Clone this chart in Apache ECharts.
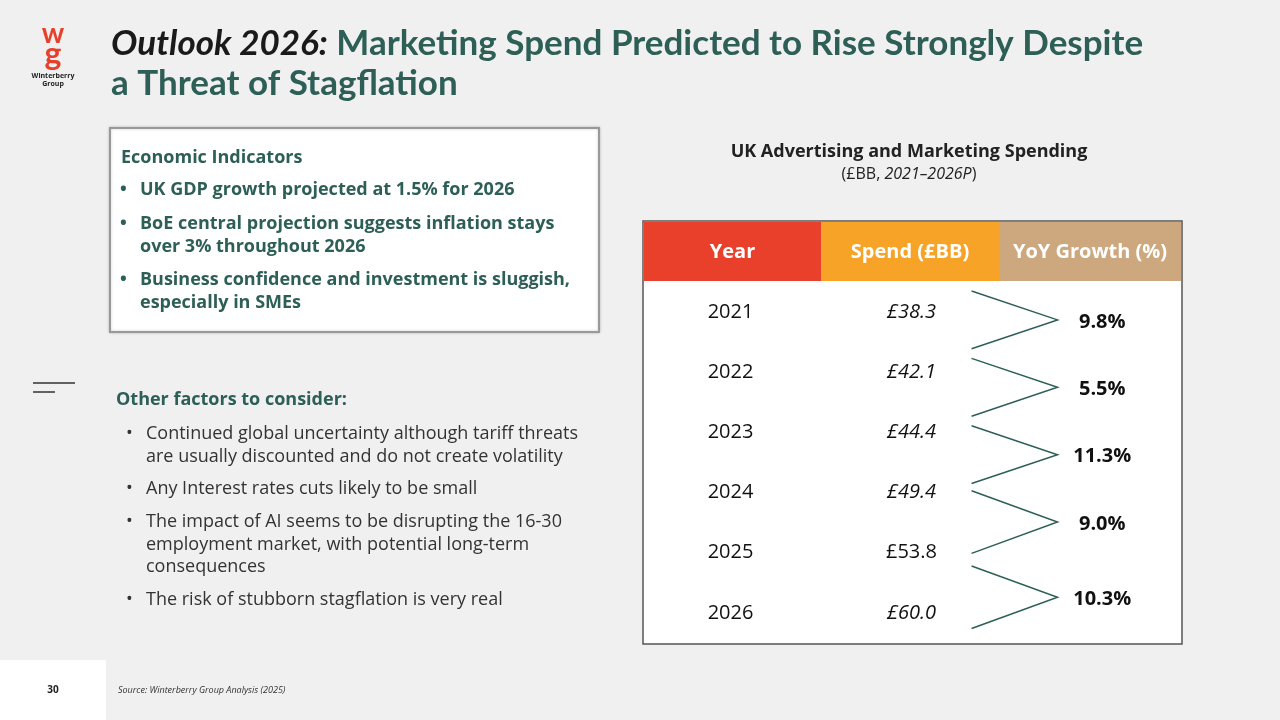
<!DOCTYPE html>
<html><head><meta charset="utf-8">
<script src="https://cdn.jsdelivr.net/npm/echarts@6/dist/echarts.min.js"></script>
<style>html,body{margin:0;padding:0;background:#f0f0f0}#c{width:1280px;height:720px}</style>
</head><body><div id="c"></div>
<script>
const years = ['2021','2022','2023','2024','2025','2026'];
const spend = [38.3, 42.1, 44.4, 49.4, 53.8, 60.0];
const spendItalic = [true, true, true, true, false, true];
const growth = [9.8, 5.5, 11.3, 9.0, 10.3];
const headers = ['Year','Spend (£BB)','YoY Growth (%)'];

const teal = '#2d5f56';
const F = '"Open Sans", sans-serif';
const chart = echarts.init(document.getElementById('c'));

const g = [];
g.push({type:'rect',shape:{x:0,y:660,width:106,height:60},style:{fill:'#fff'}});
g.push({type:'text',x:53,y:690,style:{text:'30',font:'bold 10px '+F,fill:'#222',align:'center',verticalAlign:'middle'}});
g.push({type:'text',x:118,y:690,style:{text:'Source: Winterberry Group Analysis (2025)',font:'italic 9px '+F,fill:'#333',verticalAlign:'middle'}});
// logo
g.push({type:'text',x:53,y:34,style:{text:'w',font:'bold 28px Lato, sans-serif',fill:'#e8402a',align:'center',verticalAlign:'middle'}});
g.push({type:'text',x:53,y:55,style:{text:'g',font:'bold 32px Lato, sans-serif',fill:'#e8402a',align:'center',verticalAlign:'middle'}});
g.push({type:'text',x:53,y:76,style:{text:'Winterberry',font:'bold 7px '+F,fill:'#222',align:'center',verticalAlign:'middle'}});
g.push({type:'text',x:53,y:84,style:{text:'Group',font:'bold 7px '+F,fill:'#222',align:'center',verticalAlign:'middle'}});
// title
g.push({type:'text',x:111,y:64,style:{text:'{a|Outlook 2026:} Marketing Spend Predicted to Rise Strongly Despite\na Threat of Stagflation',
  font:'bold 35px Lato, sans-serif',fill:teal,lineHeight:40,verticalAlign:'middle',
  rich:{a:{font:'italic bold 35px Lato, sans-serif',fill:'#1a1a1a'}}}});
// economic box
g.push({type:'rect',shape:{x:110,y:128,width:489,height:204},style:{fill:'#fff',stroke:'#999',lineWidth:2,shadowBlur:3,shadowColor:'rgba(0,0,0,0.2)'}});
g.push({type:'text',x:121,y:158,style:{text:'Economic Indicators',font:'bold 18px '+F,fill:teal,verticalAlign:'middle'}});
const eco = [['UK GDP growth projected at 1.5% for 2026',178],['BoE central projection suggests inflation stays\nover 3% throughout 2026',212],['Business confidence and investment is sluggish,\nespecially in SMEs',268]];
eco.forEach(([t,y])=>{
  g.push({type:'text',x:120,y:y,style:{text:'•',font:'bold 18px '+F,fill:teal,lineHeight:23}});
  g.push({type:'text',x:140,y:y,style:{text:t,font:'bold 18px '+F,fill:teal,lineHeight:23}});
});
g.push({type:'line',shape:{x1:33,y1:383,x2:75,y2:383},style:{stroke:'#333',lineWidth:1.5}});
g.push({type:'line',shape:{x1:33,y1:392,x2:55,y2:392},style:{stroke:'#333',lineWidth:1.5}});
g.push({type:'text',x:116,y:400,style:{text:'Other factors to consider:',font:'bold 18px '+F,fill:teal,verticalAlign:'middle'}});
const oth = [['Continued global uncertainty although tariff threats\nare usually discounted and do not create volatility',423],['Any Interest rates cuts likely to be small',478],['The impact of AI seems to be disrupting the 16-30\nemployment market, with potential long-term\nconsequences',511],['The risk of stubborn stagflation is very real',589]];
oth.forEach(([t,y])=>{
  g.push({type:'text',x:126,y:y,style:{text:'•',font:'18px '+F,fill:'#333',lineHeight:22.5}});
  g.push({type:'text',x:146,y:y,style:{text:t,font:'18px '+F,fill:'#333',lineHeight:22.5}});
});
g.push({type:'text',x:909,y:152,style:{text:'UK Advertising and Marketing Spending',font:'bold 18px '+F,fill:'#222',align:'center',verticalAlign:'middle'}});
g.push({type:'text',x:909,y:174,style:{text:'(£BB, {i|2021–2026P})',font:'16px '+F,fill:'#222',align:'center',verticalAlign:'middle',rich:{i:{font:'italic 16px '+F,fill:'#222'}}}});
g.push({type:'rect',shape:{x:643,y:221,width:539,height:423},style:{fill:'#fff',stroke:'#555',lineWidth:1.5}});
const hc = ['#e8402a','#f6a327','#cda87f'];
const hx = [644,821,999,1181];
headers.forEach((h,i)=>{
  g.push({type:'rect',shape:{x:hx[i],y:222,width:hx[i+1]-hx[i],height:59},style:{fill:hc[i]}});
  g.push({type:'text',x:(hx[i]+hx[i+1])/2,y:252,style:{text:h,font:'bold 20px '+F,fill:'#fff',align:'center',verticalAlign:'middle'}});
});

const rows = years.map((y,i)=>[i, y, spend[i], spendItalic[i]?1:0, i<growth.length?growth[i]:null]);

chart.setOption({
  animation:false,
  grid:{left:644,top:282,width:537,height:361},
  xAxis:{type:'value',min:0,max:3,show:false},
  yAxis:{type:'value',min:0,max:6,inverse:true,show:false},
  graphic:g,
  series:[{
    type:'custom',
    data:rows,
    renderItem:(params,api)=>{
      const i = api.value(0);
      const c = api.coord([0.5,i+0.5]);
      const c2 = api.coord([1.5,i+0.5]);
      const kids = [
        {type:'text',x:c[0]-3,y:c[1],style:{text:years[i],font:'20px '+F,fill:'#111',align:'center',verticalAlign:'middle'}},
        {type:'text',x:c2[0]-1,y:c2[1],style:{text:'£'+spend[i].toFixed(1),font:(spendItalic[i]?'italic ':'')+'20px '+F,fill:'#111',align:'center',verticalAlign:'middle'}}
      ];
      if (i < growth.length) {
        const ay = i + 0.63 + 0.12*i + (i===4?0.13:0);
        const h = i>=3 ? 0.52 : 0.48;
        const top = api.coord([1.83, ay-h]);
        const apex = api.coord([2.31, ay]);
        const bot = api.coord([1.83, ay+h]);
        kids.push({type:'polyline',shape:{points:[top,apex,bot]},style:{stroke:teal,lineWidth:1.5,fill:null}});
        const lt = api.coord([2.56, ay]);
        kids.push({type:'text',x:lt[0],y:lt[1]+2,style:{text:growth[i].toFixed(1)+'%',font:'bold 20px '+F,fill:'#111',align:'center',verticalAlign:'middle'}});
      }
      return {type:'group',children:kids};
    }
  }]
});
</script></body></html>
